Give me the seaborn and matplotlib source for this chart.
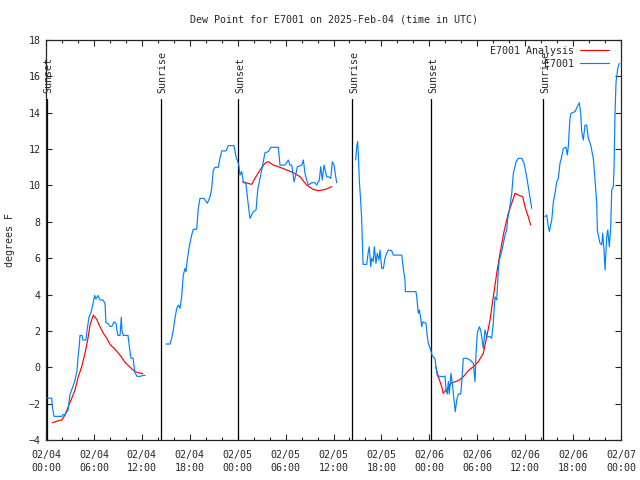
import pandas as pd
import matplotlib
matplotlib.use("Agg")
import matplotlib.pyplot as plt
from matplotlib.lines import Line2D
from matplotlib.ticker import MultipleLocator
import seaborn as sns

# hours since 02/04 00:00 UTC, dew point in deg F
obs1_t = [0.16, 0.71, 0.81, 1.0, 2.0, 2.13, 2.38, 2.59, 2.75, 3.0, 3.42, 3.63, 3.88, 4.0, 4.17, 4.26,
          4.51, 4.63, 5.01, 5.13, 5.38, 5.64, 5.89, 6.1, 6.26, 6.51, 6.76, 7.14, 7.39, 7.51, 7.76,
          8.01, 8.26, 8.51, 8.77, 8.89, 9.02, 9.27, 9.43, 9.52, 9.68, 10.27, 10.48, 10.64, 10.89,
          11.14, 11.4, 11.77, 12.15, 12.4]
obs1_v = [-1.7, -1.7, -2.2, -2.7, -2.7, -2.6, -2.6, -2.45, -2.4, -1.5, -1.0, -0.7, -0.2, 0.5, 1.2, 1.75,
          1.75, 1.5, 1.5, 2.0, 2.75, 3.0, 3.5, 3.95, 3.75, 3.95, 3.7, 3.7, 3.5, 2.45, 2.4,
          2.25, 2.25, 2.5, 2.4, 2.0, 1.75, 1.75, 2.75, 2.0, 1.75, 1.75, 1.0, 0.5, 0.5,
          -0.3, -0.5, -0.5, -0.45, -0.45]

obs2_t = [15.03, 15.53, 15.74, 15.94, 16.15, 16.37, 16.57, 16.78, 16.99, 17.19, 17.41, 17.53, 17.69,
          17.94, 18.24, 18.45, 18.87, 19.07, 19.28, 19.78, 20.2, 20.54, 20.75, 20.95, 21.16, 21.58,
          21.79, 22.0, 22.54, 22.83, 23.54, 23.79, 24.08, 24.17, 24.29, 24.51, 24.71, 25.04, 25.26,
          25.54, 25.96, 26.3, 26.51, 26.71, 27.01, 27.42, 27.84, 28.14, 29.09, 29.3, 29.93, 30.34,
          30.55, 30.77, 31.06, 31.31, 31.47, 32.02, 32.22, 32.43, 32.64, 32.85, 33.27, 33.69, 33.9,
          34.22, 34.4, 34.6, 34.81, 35.15, 35.35, 35.65, 35.85, 36.06, 36.28, 36.4]
obs2_v = [1.28, 1.28, 1.6, 2.05, 2.7, 3.24, 3.42, 3.24, 3.88, 5.07, 5.44, 5.26, 5.9,
          6.63, 7.27, 7.59, 7.59, 8.74, 9.29, 9.29, 9.02, 9.38, 9.84, 10.85, 11.0, 11.0,
          11.5, 11.9, 11.9, 12.19, 12.19, 11.58, 11.22, 11.03, 10.57, 10.76, 10.2, 10.08, 9.2,
          8.19, 8.56, 8.65, 9.75, 10.2, 10.85, 11.8, 11.86, 12.1, 12.1, 11.12, 11.12, 11.4,
          11.12, 11.12, 10.2, 10.67, 11.03, 11.12, 11.4, 10.67, 10.3, 10.02, 10.15, 10.15, 10.02,
          10.3, 11.03, 10.3, 11.12, 10.48, 10.48, 10.39, 11.3, 11.12, 10.48, 10.15]

obs3_t = [38.78, 38.9, 39.03, 39.11, 39.23, 39.41, 39.53, 39.66, 39.7, 40.16, 40.36, 40.48, 40.66,
          40.78, 40.98, 41.11, 41.32, 41.48, 41.7, 41.82, 42.04, 42.24, 42.45, 42.66, 42.86, 43.29,
          43.49, 44.54, 44.74, 44.95, 45.0, 46.33, 46.42, 46.62, 46.75, 46.92, 47.05, 47.17, 47.58,
          47.75, 47.87, 48.17, 48.34, 48.71, 49.0, 49.75, 49.96, 50.09, 50.25, 50.38, 50.5, 50.71,
          50.88, 51.0, 51.13, 51.25, 51.43, 51.63, 51.93, 52.05, 52.26, 52.68, 53.09, 53.51, 53.72,
          53.85, 54.01, 54.26, 54.43, 54.56, 54.76, 54.97, 55.19, 55.6, 55.81, 56.01, 56.22, 56.44,
          56.64, 56.76, 57.06, 57.48, 57.69, 57.79, 58.02, 58.32, 58.52, 58.86, 59.15, 59.57, 59.86,
          60.19, 60.52, 60.82]
obs3_v = [11.4, 12.13, 12.41, 11.67, 10.3, 9.1, 8.1, 6.27, 5.66, 5.66, 6.36, 6.63, 5.53,
          6.0, 5.81, 6.63, 5.72, 6.27, 5.9, 6.45, 5.44, 5.44, 6.0, 6.27, 6.45, 6.41,
          6.17, 6.17, 5.44, 4.8, 4.16, 4.16, 3.88, 2.97, 3.15, 2.7, 2.23, 2.5, 2.42,
          1.68, 1.32, 0.95, 0.67, 0.44, -0.48, -0.52, -0.48, -1.25, -1.47, -0.79, -1.47, -0.33,
          -0.88, -1.43, -1.98, -2.45, -1.8, -1.47, -1.47, -0.88, 0.49, 0.49, 0.4, 0.22, -0.79,
          0.77, 1.87, 2.23, 2.05, 1.68, 1.04, 2.05, 1.68, 1.68, 1.6, 2.42, 3.88, 3.7,
          5.35, 5.9, 6.36, 7.27, 7.55, 8.1, 8.65, 9.57, 10.67, 11.3, 11.49, 11.49, 11.22,
          10.48, 9.57, 8.74]

obs4_t = [62.49, 62.7, 62.9, 63.03, 63.33, 63.53, 63.74, 63.95, 64.15, 64.36, 64.57, 64.78, 65.11,
          65.28, 65.4, 65.61, 65.74, 66.24, 66.53, 66.78, 66.96, 67.08, 67.28, 67.49, 67.7, 67.91,
          68.21, 68.53, 68.75, 68.96, 69.04, 69.16, 69.37, 69.59, 69.71, 69.87, 70.0, 70.21, 70.34,
          70.54, 70.71, 70.84, 71.04, 71.13, 71.25, 71.38, 71.59, 71.79]
obs4_v = [8.28, 8.37, 7.73, 7.46, 8.1, 9.1, 9.57, 10.2, 10.39, 11.22, 11.58, 12.04, 12.1,
          11.67, 12.13, 13.69, 13.97, 14.06, 14.33, 14.55, 13.97, 12.96, 12.5, 13.32, 13.32, 12.59,
          12.22, 11.49, 10.3, 9.02, 7.55, 7.27, 6.82, 6.73, 7.37, 6.45, 5.35, 7.18, 7.55,
          6.63, 7.73, 9.75, 9.93, 11.03, 13.97, 15.7, 16.44, 16.72]

ana1_t = [0.79, 1.54, 1.97, 2.38, 2.79, 3.22, 3.63, 4.04, 4.47, 4.88, 5.22, 5.51, 5.92, 6.35, 6.76,
          7.18, 7.6, 8.01, 8.64, 9.27, 9.89, 10.52, 11.14, 11.77, 12.1]
ana1_v = [-3.05, -2.94, -2.9, -2.63, -2.17, -1.71, -1.25, -0.52, 0.03, 0.77, 1.5, 2.32, 2.87, 2.64, 2.23,
          1.87, 1.6, 1.26, 0.99, 0.67, 0.27, 0.0, -0.24, -0.33, -0.35]

ana2_t = [24.6, 25.76, 26.17, 26.8, 27.42, 27.84, 28.46, 29.3, 30.14, 30.97, 31.81, 32.64, 33.47,
          34.1, 34.94, 35.78]
ana2_v = [10.2, 10.06, 10.39, 10.85, 11.22, 11.31, 11.12, 11.0, 10.85, 10.7, 10.48, 10.02, 9.78,
          9.71, 9.78, 9.93]

ana3_t = [48.8, 49.13, 49.55, 49.75, 50.18, 50.8, 51.63, 52.26, 52.88, 53.51, 54.14, 54.76, 55.19,
          55.6, 56.01, 56.44, 56.85, 57.35, 57.89, 58.32, 58.73, 59.15, 59.69, 59.98, 60.39, 60.69]
ana3_v = [0.03, -0.52, -1.07, -1.43, -1.21, -0.85, -0.74, -0.52, -0.19, 0.03, 0.31, 0.77, 1.68,
          2.6, 3.88, 5.17, 6.27, 7.46, 8.47, 9.02, 9.57, 9.47, 9.38, 8.83, 8.28, 7.82]

event_t = [0.12, 14.34, 24.1, 38.36, 48.27, 62.27]
event_lbl = ["Sunset", "Sunrise", "Sunset", "Sunrise", "Sunset", "Sunrise"]

tick_hours = [0, 6, 12, 18, 24, 30, 36, 42, 48, 54, 60, 66, 72]
tick_lbls = ["02/04\n00:00", "02/04\n06:00", "02/04\n12:00", "02/04\n18:00", "02/05\n00:00",
             "02/05\n06:00", "02/05\n12:00", "02/05\n18:00", "02/06\n00:00", "02/06\n06:00",
             "02/06\n12:00", "02/06\n18:00", "02/07\n00:00"]

RED = "#ff0000"
BLUE = "#0080ff"

rows = []
for seg, (t, v) in enumerate([(obs1_t, obs1_v), (obs2_t, obs2_v), (obs3_t, obs3_v), (obs4_t, obs4_v)]):
    rows.append(pd.DataFrame({"hour": t, "dewpt": v, "seg": seg, "series": "E7001"}))
for seg, (t, v) in enumerate([(ana1_t, ana1_v), (ana2_t, ana2_v), (ana3_t, ana3_v)]):
    rows.append(pd.DataFrame({"hour": t, "dewpt": v, "seg": 10 + seg, "series": "E7001 Analysis"}))
df = pd.concat(rows, ignore_index=True)

sns.set_style("ticks")
plt.rcParams["font.family"] = ["DejaVu Sans Mono"]
plt.rcParams["font.size"] = 7.2

fig = plt.figure(figsize=(6.4, 4.8), dpi=100)
ax = fig.add_axes([46 / 640, 40 / 480, 575 / 640, 400 / 480])

for x, lbl in zip(event_t, event_lbl):
    ax.plot([x, x], [-4, 14.75], color="black", lw=0.9, zorder=1)
    ax.text(x + 0.2, 15.1, lbl, rotation=90, ha="center", va="bottom", fontsize=7.2)

sns.lineplot(data=df[df.series == "E7001"], x="hour", y="dewpt", units="seg", estimator=None,
             sort=False, color=BLUE, lw=0.85, ax=ax, legend=False, zorder=3)
sns.lineplot(data=df[df.series == "E7001 Analysis"], x="hour", y="dewpt", units="seg", estimator=None,
             sort=False, color=RED, lw=0.85, ax=ax, legend=False, zorder=2)

ax.set_xlim(0, 72)
ax.set_ylim(-4, 18)
ax.set_xticks(tick_hours)
ax.set_xticklabels(tick_lbls, linespacing=1.35)
ax.xaxis.set_minor_locator(MultipleLocator(2))
ax.yaxis.set_major_locator(MultipleLocator(2))
ax.tick_params(which="both", direction="in", top=True, right=True, width=0.8, labelsize=7.2)
ax.tick_params(which="major", length=4.5)
ax.tick_params(which="minor", length=2.5)
ax.tick_params(axis="x", pad=7.5)
ax.tick_params(axis="y", pad=4)
for sp in ax.spines.values():
    sp.set_linewidth(0.9)
ax.set_xlabel("")
ax.set_ylabel("")

fig.text(10 / 640, 0.5, "degrees F", rotation=90, ha="center", va="center", fontsize=7.2)
fig.text(333.5 / 640, 1 - 20 / 480, "Dew Point for E7001 on 2025-Feb-04 (time in UTC)",
         ha="center", va="center", fontsize=7.2)

handles = [Line2D([], [], color=RED, lw=0.85), Line2D([], [], color=BLUE, lw=0.85)]
ax.legend(handles, ["E7001 Analysis", "E7001"], loc="upper right", bbox_to_anchor=(0.979, 0.985),
          frameon=False, markerfirst=False, handlelength=2.9, handletextpad=0.6,
          borderpad=0, borderaxespad=0, labelspacing=0.3, fontsize=7.2)

fig.savefig("out.png", dpi=100)
